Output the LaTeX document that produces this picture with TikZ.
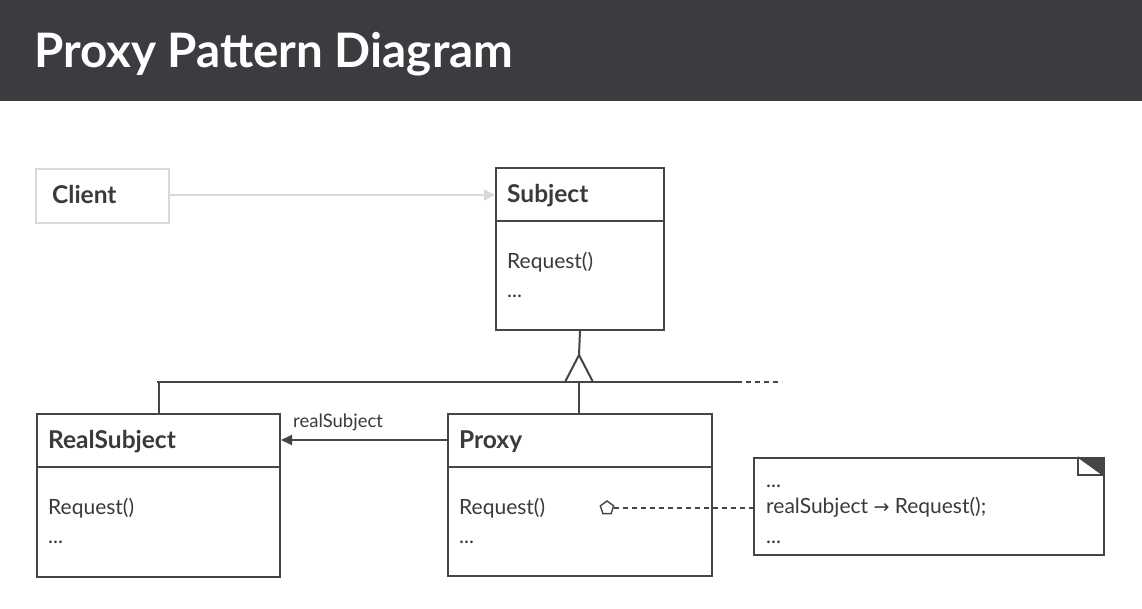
\documentclass[tikz,border=0pt]{standalone}
\usepackage{fontspec}
\setmainfont{Lato}
\newfontfamily\symfont{DejaVu Sans}
\usetikzlibrary{arrows.meta,shapes.geometric}
\definecolor{hdr}{HTML}{3B3C40}
\definecolor{ink}{HTML}{454545}
\definecolor{txt}{HTML}{3A3A3A}
\definecolor{pale}{HTML}{D9D9D9}
\begin{document}
\begin{tikzpicture}[x=1pt,y=-1pt,
  box/.style={draw=ink,line width=2pt,fill=white,inner sep=0pt,anchor=north west},
  palebox/.style={draw=pale,line width=2pt,fill=white,inner sep=0pt,anchor=north west},
  cname/.style={font=\fontsize{24.5}{28}\selectfont\bfseries,text=txt,anchor=base west,inner sep=0pt},
  member/.style={font=\fontsize{21}{25}\selectfont,text=txt,anchor=base west,inner sep=0pt},
  conn/.style={draw=ink,line width=2pt},
  dashconn/.style={draw=ink,line width=2pt,dash pattern=on 5pt off 4pt}]
\useasboundingbox (0,0) rectangle (1142,608);
\fill[white] (0,0) rectangle (1142,608);
\fill[hdr] (0,0) rectangle (1142,101);
\node[font=\fontsize{47.5}{54}\selectfont\bfseries,text=white,anchor=base west,inner sep=0pt] (title) at (34,67) {Proxy Pattern Diagram};

% Client
\node[palebox,minimum width=133pt,minimum height=54pt] (client) at (35,168) {};
\node[cname,text=txt] (clientname) at (52,203) {Client};

% Subject
\node[box,minimum width=168pt,minimum height=162pt] (subject) at (495,167) {};
\draw[conn] (495,221) -- (663,221);
\node[cname] (subjectname) at (507,202) {Subject};
\node[member] (subjectreq) at (507,268) {Request()};
\node[member] (subjectdots) at (507,297) {...};

% RealSubject
\node[box,minimum width=243pt,minimum height=163pt] (real) at (36,413) {};
\draw[conn] (36,467) -- (279,467);
\node[cname] (realname) at (48,448) {RealSubject};
\node[member] (realreq) at (48,514) {Request()};
\node[member] (realdots) at (48,543) {...};

% Proxy
\node[box,minimum width=264pt,minimum height=162pt] (proxy) at (447,413) {};
\draw[conn] (447,467) -- (711,467);
\node[cname] (proxyname) at (459,448) {Proxy};
\node[member] (proxyreq) at (459,514) {Request()};
\node[member] (proxydots) at (459,543) {...};

% Note
\node[box,minimum width=350pt,minimum height=97pt] (note) at (753,457) {};
\fill[ink] (1078,457) -- (1103,457) -- (1103,475) -- cycle;
\draw[ink,line width=1.4pt] (1078,457) -- (1078,475) -- (1103,475);
\draw[ink,line width=1.4pt] (1078,457) -- (1103,475);
\node[member] (notedots1) at (766,487) {...};
\node[member] (notecall) at (766,513) {realSubject {\symfont\fontsize{19}{23}\selectfont →} Request();};
\node[member] (notedots2) at (766,543) {...};

% Client -> Subject
\draw[draw=pale,line width=2pt,-{Triangle[length=11pt,width=11pt,fill=pale]}] (client.east |- 0,195) -- (subject.west |- 0,195);

% Generalization
\coordinate (tip) at (579,355);
\coordinate (bl) at (565,382);
\coordinate (br) at (593,382);
\coordinate (hl) at (157,382);
\coordinate (hr) at (737,382);
\coordinate (hd) at (782,382);
\draw[conn] (subject.south) -- (tip);
\draw[conn,line join=miter] (bl) -- (tip) -- (br);
\draw[conn] (hl) -- (hr);
\draw[dashconn] (hr) -- (hd);
\draw[conn] (real.north) -- (real.north |- hl);
\draw[conn] (tip |- hl) -- (tip |- proxy.north);

% realSubject association
\draw[conn,-{Triangle[length=11pt,width=10pt]}] (proxy.west |- 0,440) -- (real.east |- 0,440);
\node[font=\fontsize{18.5}{22}\selectfont,text=txt,anchor=base west,inner sep=0pt] (assoclabel) at (293,427) {realSubject};

% note link
\node[regular polygon,regular polygon sides=5,draw=ink,line width=1.4pt,fill=white,minimum size=14pt,inner sep=0pt] (pent) at (607,508) {};
\draw[dashconn] (pent.east |- 0,508) -- (note.west |- 0,508);
\end{tikzpicture}
\end{document}
